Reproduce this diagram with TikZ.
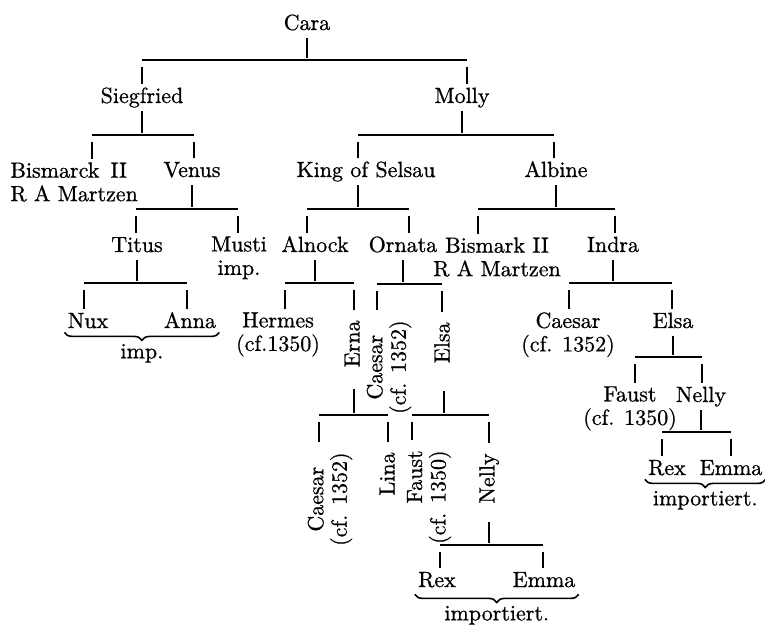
\documentclass[tikz,border=0pt]{standalone}
\usepackage{fontspec}
\setmainfont{Latin Modern Roman}[FakeBold=0.8]
\usepackage{tikz}
\usetikzlibrary{decorations.pathreplacing}

\begin{document}
\begin{tikzpicture}[
  x=0.5pt, y=-0.5pt,
  every node/.style={font=\fontsize{11pt}{11.75pt}\selectfont},
  dog/.style={anchor=base, inner sep=1.5pt, text height=8pt, text depth=2.5pt},
  dogs/.style={dog, anchor=north, align=center, text height=, text depth=},
  vdog/.style={rotate=90, anchor=east, inner xsep=5pt, inner ysep=1.5pt,
               text height=8pt, text depth=2.5pt},
  vsire/.style={vdog, text width=29pt, align=right},
  vdogs/.style={vdog, align=center, text height=, text depth=},
  hline/.style={line width=0.8pt},
  stemline/.style={hline, shorten >=1pt},
  dropline/.style={hline, shorten <=3.5pt},
  brace/.style={hline, decorate, decoration={brace, mirror, amplitude=4pt}},
  litter/.style={anchor=base, midway, yshift=-13pt, inner sep=1.5pt}
]
  \useasboundingbox (0,0) rectangle (765,625);

  \node[dog] (cara) at (307,30) {Cara};
  \node[dog] (sieg) at (142,103) {Siegfried};
  \node[dog] (molly) at (462,103) {Molly};
  \node[dogs, anchor=north west, align=left] (bisa) at (7,159) {Bismarck\enspace II\\R A Martzen};
  \node[dog] (venus) at (192,177) {Venus};
  \node[dog] (king) at (366,177) {King of Selsau};
  \node[dog] (albine) at (556,177) {Albine};
  \node[dog] (titus) at (137,252) {Titus};
  \node[dogs] (musti) at (239,233) {Musti\\imp.};
  \node[dog] (alnock) at (315,252) {Alnock};
  \node[dog] (ornata) at (403,252) {Ornata};
  \node[dogs] (bisb) at (497,234) {Bismark II\\R A Martzen};
  \node[dog] (indra) at (613,252) {Indra};
  \node[dog] (nux) at (88,328) {Nux};
  \node[dog] (anna) at (190,328) {Anna};
  \node[dogs] (hermes) at (278,309) {Hermes\\(cf.1350)};
  \node[vsire] (erna) at (354,310) {Erna};
  \node[vdogs] (caesara) at (389,310) {Caesar\\(cf. 1352)};
  \node[vsire] (elsaa) at (444,312) {Elsa};
  \node[dogs] (caesarb) at (568,309) {Caesar\\(cf. 1352)};
  \node[dog] (elsab) at (673,328) {Elsa};
  \node[vdogs] (caesarc) at (330,442) {Caesar\\(cf. 1352)};
  \node[vdog] (lina) at (389,442) {Lina};
  \node[vdogs, align=right] (fausta) at (429,440) {Faust\\(cf. 1350)};
  \node[vsire] (nellya) at (489,443) {Nelly};
  \node[dogs] (faustb) at (630,383) {Faust\\(cf. 1350)};
  \node[dog] (nellyb) at (701,402) {Nelly};
  \node[dog] (rexb) at (667,475) {Rex};
  \node[dog] (emmab) at (731,475) {Emma};
  \node[dog] (rexa) at (437,587) {Rex};
  \node[dog] (emmaa) at (544,587) {Emma};

  \coordinate (j-sieg) at (142,60);
  \coordinate (j-molly) at (467,60);
  \coordinate (j-bisa) at (92,135);
  \coordinate (j-venus) at (194,135);
  \coordinate (j-king) at (358,135);
  \coordinate (j-albine) at (554,135);
  \coordinate (j-titus) at (136,209);
  \coordinate (j-musti) at (238,209);
  \coordinate (j-alnock) at (307,209);
  \coordinate (j-ornata) at (409,209);
  \coordinate (j-bisb) at (478,209);
  \coordinate (j-indra) at (615,209);
  \coordinate (j-nux) at (84,283);
  \coordinate (j-anna) at (187,283);
  \coordinate (j-hermes) at (285,283);
  \coordinate (j-erna) at (354,283);
  \coordinate (j-caesara) at (377,284);
  \coordinate (j-elsaa) at (442,284);
  \coordinate (j-caesarb) at (569,283);
  \coordinate (j-elsab) at (672,283);
  \coordinate (j-caesarc) at (319,415);
  \coordinate (j-lina) at (388,415);
  \coordinate (j-fausta) at (412,415);
  \coordinate (j-nellya) at (489,415);
  \coordinate (j-faustb) at (635,357);
  \coordinate (j-nellyb) at (702,357);
  \coordinate (j-rexb) at (662,432);
  \coordinate (j-emmab) at (731,432);
  \coordinate (j-rexa) at (440,545);
  \coordinate (j-emmaa) at (543,545);

  \draw[stemline] (cara) -- (cara |- j-sieg);
  \draw[hline] (j-sieg) -- (j-molly);
  \draw[dropline] (j-sieg) -- (j-sieg |- sieg.north);
  \draw[dropline] (j-molly) -- (j-molly |- molly.north);

  \draw[stemline] (sieg) -- (sieg |- j-bisa);
  \draw[hline] (j-bisa) -- (j-venus);
  \draw[dropline] (j-bisa) -- (j-bisa |- bisa.north);
  \draw[dropline] (j-venus) -- (j-venus |- venus.north);

  \draw[stemline] (molly) -- (molly |- j-king);
  \draw[hline] (j-king) -- (j-albine);
  \draw[dropline] (j-king) -- (j-king |- king.north);
  \draw[dropline] (j-albine) -- (j-albine |- albine.north);

  \draw[stemline] (venus) -- (venus |- j-titus);
  \draw[hline] (j-titus) -- (j-musti);
  \draw[dropline] (j-titus) -- (j-titus |- titus.north);
  \draw[dropline] (j-musti) -- (j-musti |- musti.north);

  \draw[stemline] (j-king |- king.south) -- (j-king |- j-alnock);
  \draw[hline] (j-alnock) -- (j-ornata);
  \draw[dropline] (j-alnock) -- (j-alnock |- alnock.north);
  \draw[dropline] (j-ornata) -- (j-ornata |- ornata.north);

  \draw[stemline] (albine) -- (albine |- j-bisb);
  \draw[hline] (j-bisb) -- (j-indra);
  \draw[dropline] (j-bisb) -- (j-bisb |- bisb.north);
  \draw[dropline] (j-indra) -- (j-indra |- indra.north);

  \draw[stemline] (titus) -- (titus |- j-nux);
  \draw[hline] (j-nux) -- (j-anna);
  \draw[dropline] (j-nux) -- (j-nux |- nux.north);
  \draw[dropline] (j-anna) -- (j-anna |- anna.north);

  \draw[stemline] (alnock) -- (alnock |- j-hermes);
  \draw[hline] (j-hermes) -- (j-erna);
  \draw[dropline] (j-hermes) -- (j-hermes |- hermes.north);
  \draw[dropline] (j-erna) -- (j-erna |- erna.east);

  \draw[stemline] (ornata) -- (ornata |- j-caesara);
  \draw[hline] (j-caesara) -- (j-elsaa);
  \draw[dropline] (j-caesara) -- (j-caesara |- caesara.east);
  \draw[dropline] (j-elsaa) -- (j-elsaa |- elsaa.east);

  \draw[stemline] (indra) -- (indra |- j-caesarb);
  \draw[hline] (j-caesarb) -- (j-elsab);
  \draw[dropline] (j-caesarb) -- (j-caesarb |- caesarb.north);
  \draw[dropline] (j-elsab) -- (j-elsab |- elsab.north);

  \draw[stemline] (erna) -- (erna |- j-caesarc);
  \draw[hline] (j-caesarc) -- (j-lina);
  \draw[dropline] (j-caesarc) -- (j-caesarc |- caesarc.east);
  \draw[dropline] (j-lina) -- (j-lina |- lina.east);

  \draw[stemline] (elsaa) -- (elsaa |- j-fausta);
  \draw[hline] (j-fausta) -- (j-nellya);
  \draw[dropline] (j-fausta) -- (j-fausta |- fausta.east);
  \draw[dropline] (j-nellya) -- (j-nellya |- nellya.east);

  \draw[stemline] (elsab) -- (elsab |- j-faustb);
  \draw[hline] (j-faustb) -- (j-nellyb);
  \draw[dropline] (j-faustb) -- (j-faustb |- faustb.north);
  \draw[dropline] (j-nellyb) -- (j-nellyb |- nellyb.north);

  \draw[stemline] (nellyb) -- (nellyb |- j-rexb);
  \draw[hline] (j-rexb) -- (j-emmab);
  \draw[dropline] (j-rexb) -- (j-rexb |- rexb.north);
  \draw[dropline] (j-emmab) -- (j-emmab |- emmab.north);

  \draw[stemline] (nellya) -- (nellya |- j-rexa);
  \draw[hline] (j-rexa) -- (j-emmaa);
  \draw[dropline] (j-rexa) -- (j-rexa |- rexa.north);
  \draw[dropline] (j-emmaa) -- (j-emmaa |- emmaa.north);

  \draw[brace] ([yshift=2pt]nux.south west) -- ([yshift=2pt]anna.south east)
    node[litter] (impa) {imp.};
  \draw[brace] ([yshift=2pt]rexb.south west) -- ([yshift=2pt]emmab.south east)
    node[litter] (impb) {importiert.};
  \draw[brace] ([yshift=0.5pt]rexa.south west) -- ([yshift=0.5pt]emmaa.south east)
    node[litter] (impc) {importiert.};
\end{tikzpicture}
\end{document}
